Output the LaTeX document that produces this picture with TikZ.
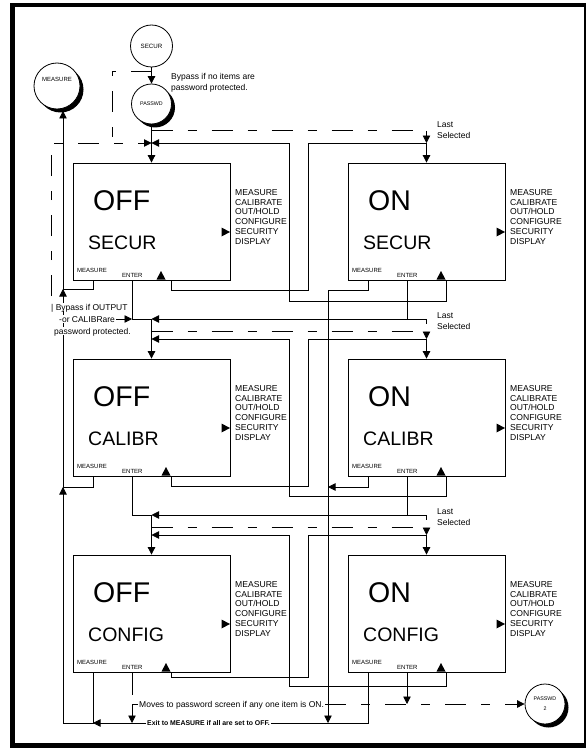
\documentclass[tikz,border=0pt]{standalone}
\usepackage{fontspec}
\setmainfont{Liberation Sans}
\usetikzlibrary{arrows.meta,shadows}
\tikzset{
  ln/.style={line width=0.8pt},
  tip/.style={-{Triangle[length=7.5pt,width=7.5pt]}},
  arr/.style={ln,tip},
  dsh/.style={ln,dash pattern=on 21pt off 15pt on 9pt off 15pt},
  panelbox/.style={draw,line width=0.8pt,minimum width=157pt,minimum height=117pt,inner sep=0pt},
  bigtxt/.style={anchor=west,inner sep=0pt,font=\fontsize{28.5}{30}\selectfont,text height=20.4pt,text depth=0pt},
  subtxt/.style={anchor=west,inner sep=0pt,font=\fontsize{19.5}{22}\selectfont,text height=14pt,text depth=0pt},
  keytxt/.style={anchor=west,inner sep=0pt,font=\fontsize{6}{7}\selectfont,text height=4.3pt,text depth=0pt},
  menutxt/.style={anchor=west,inner sep=0pt,font=\fontsize{8.6}{10}\selectfont,text height=6.2pt,text depth=0pt},
  note/.style={anchor=west,inner sep=1pt,font=\fontsize{8.5}{10}\selectfont,text height=6.1pt,text depth=0pt},
  exitnote/.style={anchor=west,inner sep=1pt,font=\bfseries\fontsize{6.9}{8}\selectfont,text height=5pt,text depth=0pt},
  circ/.style={draw,circle,fill=white,inner sep=0pt,line width=0.8pt},
  circlbl/.style={inner sep=0pt,font=\fontsize{6}{7}\selectfont},
  shadowed/.style={drop shadow={shadow xshift=3.5pt,shadow yshift=-3.5pt,fill=black,opacity=1}},
}
\newcommand\drawpanel[6]{%
  \node[panelbox] (#1) at ({#2+78.5},{#3+58.5}) {};
  \node[bigtxt] at ({#2+20},{#3+37}) {#4};
  \node[subtxt] at ({#2+15},{#3+79}) {#5};
  \node[keytxt] at ({#2+4},{#3+107}) {MEASURE};
  \node[keytxt] at ({#2+49},{#3+112}) {ENTER};
  \fill ({#2+#6-4.5},{#3+116.5}) -- ({#2+#6+4.5},{#3+116.5}) -- ({#2+#6},{#3+108}) -- cycle;
  \fill ({#2+148.5},{#3+64.5}) -- ({#2+157},{#3+69}) -- ({#2+148.5},{#3+73.5}) -- cycle;
  \foreach \w [count=\i from 0] in {MEASURE,CALIBRATE,OUT/HOLD,CONFIGURE,SECURITY,DISPLAY}
    \node[menutxt] at ({#2+162},{#3+29+9.9*\i}) {\w};
  \coordinate (#1-meas) at ({#2+20},{#3+117});
  \coordinate (#1-ent) at ({#2+59},{#3+117});
  \coordinate (#1-up) at ({#2+98},{#3+117});
}
\begin{document}
\begin{tikzpicture}[x=1pt,y=-1pt]
\useasboundingbox (0,0) rectangle (587,749);
% frame
\fill (10,3) rectangle (15,748);
\fill (10,3) rectangle (586,7.5);
\fill (10,743) rectangle (586,748);
\fill (584,3) rectangle (586,748);

% panels
\drawpanel{offsecur}{73}{163}{OFF}{SECUR}{88}
\drawpanel{onsecur}{348}{163}{ON}{SECUR}{93}
\drawpanel{offcal}{73}{359}{OFF}{CALIBR}{93}
\drawpanel{oncal}{348}{359}{ON}{CALIBR}{93}
\drawpanel{offcfg}{73}{555}{OFF}{CONFIG}{93}
\drawpanel{oncfg}{348}{555}{ON}{CONFIG}{93}

% circles
\node[circ,minimum size=42pt,font=\fontsize{6.2}{7}\selectfont] (secur) at (151.5,46) {SECUR};
\node[circ,shadowed,minimum size=40pt,font=\fontsize{5.3}{6}\selectfont] (passwd) at (151.5,104) {PASSWD};
\node[circ,shadowed,minimum size=46pt] (measure) at (57,86) {};
\node[circlbl] at (57,79) {MEASURE};
\node[circ,shadowed,minimum size=40pt,align=center,font=\fontsize{5.3}{10}\selectfont] (passwd2) at (545,704) {PASSWD\\2};

% named points
\coordinate (b1) at (151.5,71);
\coordinate (b2) at (112,71);
\coordinate (b3) at (112,143);
\coordinate (bp0) at (51,296);
\coordinate (bp1) at (51,143);
\coordinate (bpt) at (113,319);
\coordinate (colA) at (289,0);
\coordinate (colB) at (308,0);
\coordinate (j1) at (151.5,143);
\coordinate (j2) at (151.5,339);
\coordinate (j3) at (151.5,535);
\coordinate (ls1a) at (151.5,130);
\coordinate (ls2a) at (151.5,331);
\coordinate (ls3a) at (151.5,527);
\coordinate (ls1b) at (426.5,143);
\coordinate (ls2b) at (426.5,339);
\coordinate (ls3b) at (426.5,535);
\coordinate (e1) at (151.5,319);
\coordinate (e2) at (151.5,515);
\coordinate (e1r) at (426.5,319);
\coordinate (e2r) at (426.5,515);
\coordinate (m1) at (63,289);
\coordinate (m2) at (63,487);
\coordinate (m3) at (63,723);
\coordinate (m4) at (93,723);
\coordinate (mtip) at (63,111);
\coordinate (x328) at (328,723);
\coordinate (c328) at (328,487);
\coordinate (mv) at (138,704);

% top
\draw[arr] (secur) -- (passwd);
\draw[arr] (passwd) -- (offsecur.north);
\draw[dsh] (b1) -- (b2) -- (b3);
\draw[dsh,tip] (bp0) -- (bp1) -- (j1);
\draw[dsh,tip] (ls1a) -| (ls1b);
\draw[arr] (ls1b) -- (onsecur.north);

% row 1
\draw[ln] (offsecur-up) -- ++(0,10) -| (colB |- ls1b) -- (ls1b);
\draw[arr] (onsecur-up) -- ++(0,21) -| (colA |- j1) -- (j1);
\draw[arr] (onsecur-meas) -- ++(0,10) -| (x328);
\draw[ln] (offsecur-meas) |- (m1);
\draw[arr] (m1) -- (mtip);
\draw[arr] (m2) -- (m1);
\draw[arr] (m3) -- (m2);
\draw[ln] (offsecur-ent) |- (e1);
\draw[arr] (onsecur-ent |- e1) -- (e1);
\draw[ln] (onsecur-ent) |- (e1r) -- ++(0,5);
\draw[arr] (bpt) -- (offsecur-ent |- e1);
\draw[arr] (e1) -- (offcal.north);

% row 2
\draw[dsh,tip] (ls2a) -| (ls2b);
\draw[arr] (ls2b) -- (oncal.north);
\draw[ln] (offcal-up) -- ++(0,10) -| (colB |- ls2b) -- (ls2b);
\draw[arr] (oncal-up) -- ++(0,20) -| (colA |- j2) -- (j2);
\draw[arr] (oncal-meas) |- (c328);
\draw[ln] (offcal-meas) |- (m2);
\draw[ln] (offcal-ent) |- (e2);
\draw[arr] (oncal-ent |- e2) -- (e2);
\draw[ln] (oncal-ent) |- (e2r) -- ++(0,5);
\draw[arr] (e2) -- (offcfg.north);

% row 3
\draw[dsh,tip] (ls3a) -| (ls3b);
\draw[arr] (ls3b) -- (oncfg.north);
\draw[ln] (offcfg-up) -- ++(0,5) -| (colB |- ls3b) -- (ls3b);
\draw[arr] (oncfg-up) -- ++(0,14) -| (colA |- j3) -- (j3);
\draw[arr] (oncfg-meas) |- (m4);
\draw[ln] (offcfg-meas) -- (m4) -- (m3);
\draw[ln] (offcfg-ent) -- ++(0,23);
\draw[arr] (mv) -| (offcfg-ent |- m3);
\draw[arr] (oncfg-ent) -- (oncfg-ent |- mv);

% texts
\node[note,fill=white] (movetxt) at (mv) {Moves to password screen if any one item is ON.};
\draw[dsh,tip] (movetxt.east) -- (passwd2);
\node[exitnote,fill=white] at (146,723) {Exit to MEASURE if all are set to OFF.};
\node[note] at (170,76) {Bypass if no items are};
\node[note] at (170,87) {password protected.};
\node[note,fill=white] at (50,307) {| Bypass if OUTPUT};
\node[note,fill=white] at (58,319) {-or CALIBRare};
\node[note,fill=white] at (53,331) {password protected.};
\node[note] at (436,124) {Last};
\node[note] at (436,135) {Selected};
\node[note] at (436,315) {Last};
\node[note] at (436,326) {Selected};
\node[note] at (436,511) {Last};
\node[note] at (436,522) {Selected};
\end{tikzpicture}
\end{document}
